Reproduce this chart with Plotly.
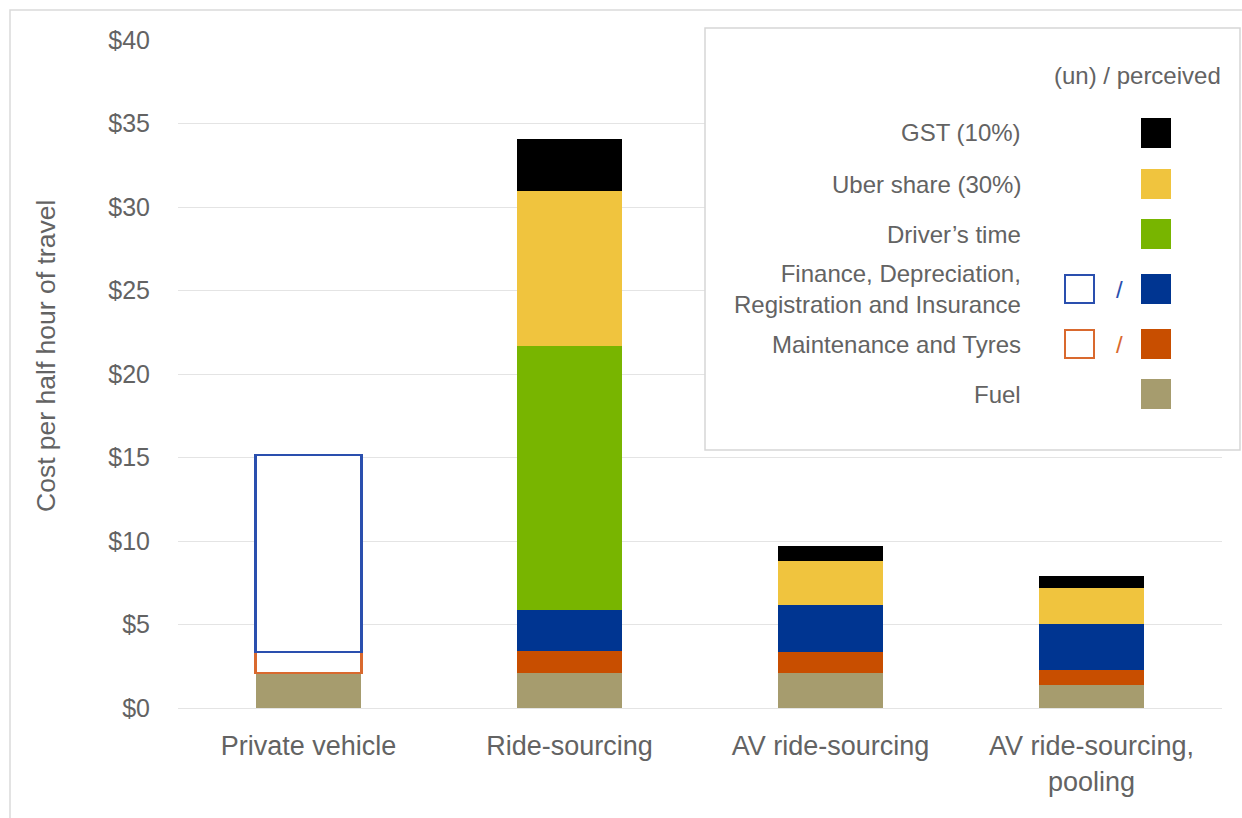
import plotly.graph_objects as go

# ---------------- data ----------------
categories = ["Private vehicle", "Ride-sourcing", "AV ride-sourcing", "AV ride-sourcing,<br>pooling"]
fuel = [2.1, 2.1, 2.08, 1.38]
maintenance = [1.26, 1.3, 1.29, 0.9]
finance = [11.8, 2.45, 2.8, 2.75]
drivers_time = [None, 15.8, None, None]
uber_share = [None, 9.3, 2.63, 2.16]
gst = [None, 3.15, 0.92, 0.73]
perceived = [False, True, True, True]   # finance & maintenance perceived?

tick_vals = [0, 5, 10, 15, 20, 25, 30, 35, 40]
tick_text = ["$0", "$5", "$10", "$15", "$20", "$25", "$30", "$35", "$40"]

legend_labels = ["GST (10%)", "Uber share (30%)", "Driver\u2019s time",
                 "Finance, Depreciation,<br>Registration and Insurance",
                 "Maintenance and Tyres", "Fuel"]

# ---------------- styles ----------------
C_FUEL = "#A69C6E"
C_MAINT = "#C84E00"
C_MAINT_LINE = "#D9692E"
C_FIN = "#003591"
C_FIN_LINE = "#2A4FAE"
C_DRIVER = "#78B500"
C_UBER = "#F0C43E"
C_GST = "#000000"
TXT = "#636363"
GRID = "#E4E4E4"
FONT = "Liberation Sans, Arial, sans-serif"

W, H = 1242, 818
L, R, T, B = 178, 20, 40, 110
PW, PH = W - L - R, H - T - B


def px(x):
    return (x - L) / PW


def py(y):
    return (T + PH - y) / PH


BAR_W = 0.406

fig = go.Figure()


def add(vals, fill, line_col, line_w, name):
    fig.add_trace(go.Bar(
        x=categories, y=vals, name=name, width=BAR_W,
        marker=dict(color=fill, line=dict(color=line_col, width=line_w)),
        showlegend=False,
    ))


add(fuel, C_FUEL, C_FUEL, 0, "Fuel")
add(maintenance,
    [C_MAINT if p else "white" for p in perceived],
    [C_MAINT if p else C_MAINT_LINE for p in perceived],
    [0 if p else 2.2 for p in perceived], "Maintenance and Tyres")
add(finance,
    [C_FIN if p else "white" for p in perceived],
    [C_FIN if p else C_FIN_LINE for p in perceived],
    [0 if p else 2.2 for p in perceived], "Finance, Depreciation, Registration and Insurance")
add(drivers_time, C_DRIVER, C_DRIVER, 0, "Driver's time")
add(uber_share, C_UBER, C_UBER, 0, "Uber share (30%)")
add(gst, C_GST, C_GST, 0, "GST (10%)")

shapes = []
annotations = []

# outer frame (left & top edges)
shapes.append(dict(type="rect", xref="paper", yref="paper",
                   x0=px(10), x1=px(1262), y0=py(838), y1=py(10),
                   line=dict(color="#DADADA", width=1.5), fillcolor="rgba(0,0,0,0)",
                   layer="above"))

# legend box
shapes.append(dict(type="rect", xref="paper", yref="paper",
                   x0=px(705), x1=px(1240), y0=py(450), y1=py(28),
                   line=dict(color="#D6D6D6", width=1.5), fillcolor="white",
                   layer="above"))

LEG_SIZE = 24
annotations.append(dict(text="(un) / perceived", xref="paper", yref="paper",
                        x=px(1223), y=py(75), xanchor="right", yanchor="middle",
                        showarrow=False, font=dict(family=FONT, size=LEG_SIZE, color=TXT)))

label_y = [133, 184, 234, 289, 344, 394]
fills = [C_GST, C_UBER, C_DRIVER, C_FIN, C_MAINT, C_FUEL]
hollow = [None, None, None, C_FIN_LINE, C_MAINT_LINE, None]
for lab, yy, fc, hc in zip(legend_labels, label_y, fills, hollow):
    annotations.append(dict(text=lab, xref="paper", yref="paper",
                            x=px(1023), y=py(yy), xanchor="right", yanchor="middle",
                            align="right", showarrow=False,
                            font=dict(family=FONT, size=LEG_SIZE, color=TXT)))
    shapes.append(dict(type="rect", xref="paper", yref="paper",
                       x0=px(1141), x1=px(1171), y0=py(yy + 15), y1=py(yy - 15),
                       line=dict(width=0), fillcolor=fc, layer="above"))
    if hc:
        shapes.append(dict(type="rect", xref="paper", yref="paper",
                           x0=px(1065), x1=px(1094), y0=py(yy + 14), y1=py(yy - 14),
                           line=dict(color=hc, width=2), fillcolor="white", layer="above"))
        annotations.append(dict(text="/", xref="paper", yref="paper",
                                x=px(1119), y=py(yy), xanchor="center", yanchor="middle",
                                showarrow=False,
                                font=dict(family=FONT, size=LEG_SIZE, color=hc)))

# y-axis title
annotations.append(dict(text="Cost per half hour of travel", xref="paper", yref="paper",
                        x=px(46), y=py(356), xanchor="center", yanchor="middle",
                        textangle=-90, showarrow=False,
                        font=dict(family=FONT, size=26.5, color=TXT)))

fig.update_layout(
    width=W, height=H,
    margin=dict(l=L, r=R, t=T, b=B),
    barmode="stack",
    plot_bgcolor="white", paper_bgcolor="white",
    font=dict(family=FONT, color=TXT),
    shapes=shapes, annotations=annotations,
    xaxis=dict(showgrid=False, showline=False, zeroline=False,
               ticks="outside", ticklen=14, tickcolor="rgba(0,0,0,0)",
               tickfont=dict(family=FONT, size=27, color=TXT)),
    yaxis=dict(range=[0, 40], tickvals=tick_vals, ticktext=tick_text,
               showgrid=True, gridcolor=GRID, gridwidth=1,
               zeroline=True, zerolinecolor=GRID, zerolinewidth=1,
               showline=False, ticks="outside", ticklen=22,
               tickcolor="rgba(0,0,0,0)",
               tickfont=dict(family=FONT, size=25, color=TXT)),
)

fig.write_html("out.html",
               config={"displayModeBar": False},
               post_script="document.body.style.margin='0px';document.body.style.overflow='hidden';")
